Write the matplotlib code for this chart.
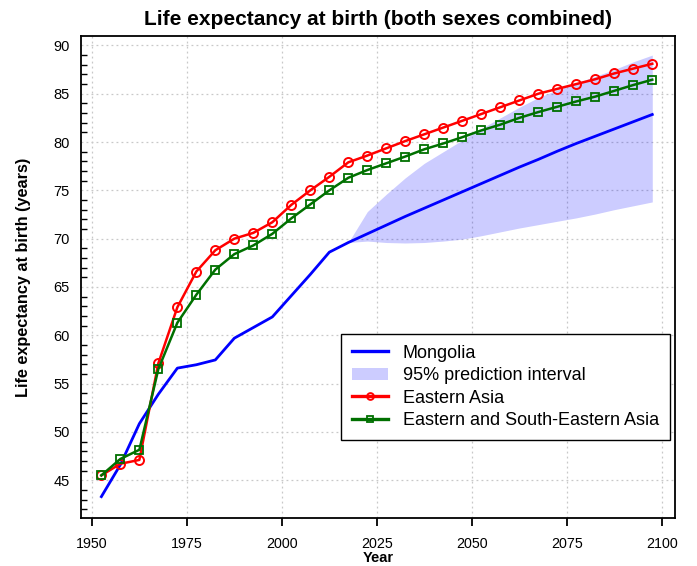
import matplotlib
matplotlib.use("Agg")
import matplotlib.pyplot as plt
from matplotlib.ticker import MultipleLocator
from matplotlib.lines import Line2D
import numpy as np

plt.rcParams['font.family'] = ['Liberation Sans', 'DejaVu Sans']

years = [1952.5 + 5 * i for i in range(30)]

eastern_asia = [45.5, 46.7, 47.1, 57.1, 62.9, 66.6, 68.8, 70.0, 70.6, 71.7,
                73.5, 75.0, 76.4, 77.9, 78.6, 79.35, 80.1, 80.8, 81.5, 82.2,
                82.9, 83.6, 84.3, 85.0, 85.5, 86.0, 86.5, 87.1, 87.6, 88.1]

esea = [45.5, 47.2, 48.15, 56.5, 61.3, 64.2, 66.8, 68.4, 69.3, 70.5,
        72.1, 73.55, 75.0, 76.3, 77.1, 77.8, 78.5, 79.25, 79.85, 80.5,
        81.2, 81.8, 82.5, 83.1, 83.65, 84.2, 84.7, 85.3, 85.9, 86.45]

mongolia = [43.3, 46.6, 50.85, 53.9, 56.6, 56.95, 57.45, 59.7, 60.8, 61.9,
            64.1, 66.3, 68.6, 69.6, 70.5, 71.4, 72.3, 73.15, 74.0, 74.85,
            75.7, 76.55, 77.4, 78.2, 79.05, 79.85, 80.6, 81.35, 82.1, 82.85]

band_years = years[13:]
band_upper = [69.6, 72.8, 74.6, 76.3, 77.8, 79.0, 80.2, 81.4, 82.5, 83.6,
              84.6, 85.4, 86.1, 86.8, 87.5, 88.3, 89.0]
band_lower = [69.6, 69.75, 69.6, 69.55, 69.6, 69.75, 69.95, 70.3, 70.7, 71.1,
              71.45, 71.8, 72.15, 72.55, 73.0, 73.4, 73.8]

title = "Life expectancy at birth (both sexes combined)"
xlabel = "Year"
ylabel = "Life expectancy at birth (years)"
labels = ["Mongolia", "95% prediction interval", "Eastern Asia",
          "Eastern and South-Eastern Asia"]

fig = plt.figure(figsize=(6.97, 5.66), dpi=100)
ax = fig.add_axes([0.116, 0.085, 0.852, 0.851])

l1, = ax.plot(years, mongolia, color='#0000ff', lw=2.0, label=labels[0], zorder=3)
b = ax.fill_between(band_years, band_lower, band_upper, color='#0000ff',
                    alpha=0.2, linewidth=0, label=labels[1], zorder=2)
l2, = ax.plot(years, eastern_asia, color='#ff0000', lw=1.8, marker='o',
              markersize=6.5, markerfacecolor='none', markeredgewidth=1.4,
              label=labels[2], zorder=4)
l3, = ax.plot(years, esea, color='#007000', lw=1.8, marker='s',
              markersize=5.5, markerfacecolor='none', markeredgewidth=1.3,
              label=labels[3], zorder=5)

ax.set_xlim(1947.1, 2103.4)
ax.set_ylim(41.1, 90.95)
ax.set_xticks([1950, 1975, 2000, 2025, 2050, 2075, 2100])
ax.set_yticks([45, 50, 55, 60, 65, 70, 75, 80, 85, 90])
ax.yaxis.set_minor_locator(MultipleLocator(1))

ax.grid(True, which='major', linestyle=(0, (1.5, 2.5)), color='#c8c8c8', lw=0.9)
ax.set_axisbelow(True)

ax.tick_params(axis='x', which='major', direction='out', length=6, width=1.3,
               labelsize=10.3, pad=8, colors='black')
ax.tick_params(axis='y', which='major', length=0, labelsize=10.5, pad=8)
ax.tick_params(axis='y', which='minor', direction='in', length=4, width=1.0)
ax.tick_params(axis='x', which='minor', length=0)

for s in ax.spines.values():
    s.set_linewidth(1.3)
    s.set_color('black')

ax.set_title(title, fontsize=15, fontweight='bold', pad=8)
ax.set_xlabel(xlabel, fontsize=10.5, fontweight='bold', labelpad=0)
ax.set_ylabel(ylabel, fontsize=11.7, fontweight='bold', labelpad=16)

leg = ax.legend(handles=[l1, b, l2, l3], loc='lower right',
                bbox_to_anchor=(0.992, 0.162), fontsize=13, frameon=True,
                fancybox=False, edgecolor='black', framealpha=1,
                handlelength=2.0, handletextpad=0.85, labelspacing=0.3,
                borderpad=0.6, borderaxespad=0, markerscale=0.75)
leg.get_frame().set_linewidth(1.0)
for h in leg.legend_handles:
    if isinstance(h, Line2D):
        h.set_linewidth(2.4)

fig.savefig('out.png', dpi=100)
